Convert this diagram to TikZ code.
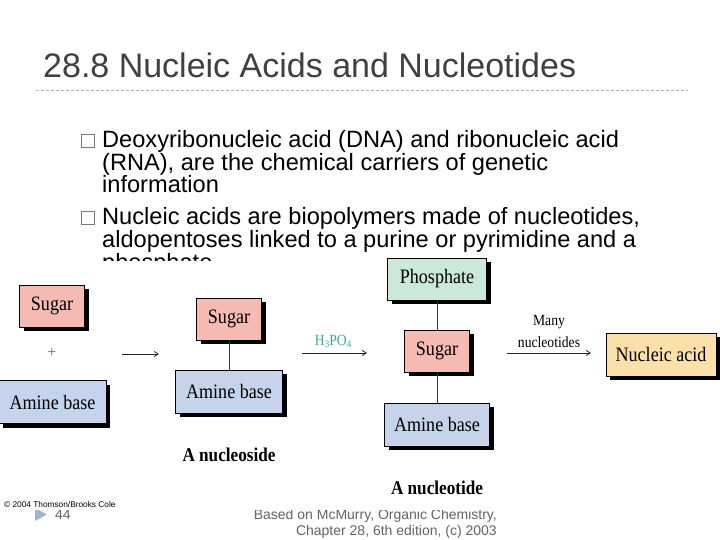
\documentclass[tikz,border=0pt]{standalone}
\usepackage{fontspec}
\setmainfont{Liberation Serif}
\setsansfont{Liberation Sans}
\newfontfamily\figfont{Liberation Serif}[FakeStretch=0.88]
\usetikzlibrary{arrows.meta,shadows}
\definecolor{titlegray}{RGB}{64,64,64}
\definecolor{rulegray}{RGB}{175,175,175}
\definecolor{bulletgray}{RGB}{120,120,120}
\definecolor{footgray}{RGB}{100,100,100}
\definecolor{tribl}{RGB}{160,180,205}
\definecolor{sugarpink}{RGB}{245,187,178}
\definecolor{amineblue}{RGB}{198,212,235}
\definecolor{phosgreen}{RGB}{204,232,218}
\definecolor{nucorange}{RGB}{252,224,170}
\definecolor{acidteal}{RGB}{60,168,148}
\tikzset{
  titletext/.style={anchor=base west, inner sep=0, text=titlegray, font=\sffamily\fontsize{34}{40}\selectfont},
  bodytext/.style={anchor=base west, inner sep=0, text=black, font=\sffamily\fontsize{23.6}{28}\selectfont},
  bulletbox/.style={draw=bulletgray, line width=0.8pt, minimum size=13pt, inner sep=0},
  foottext/.style={anchor=base east, inner sep=0, text=footgray, font=\sffamily\fontsize{14}{16}\selectfont},
  box/.style={draw=black, line width=0.5pt, inner sep=0, font=\figfont\fontsize{20.5}{22}\selectfont,
    drop shadow={shadow xshift=4pt, shadow yshift=-4pt, fill=black, opacity=1}},
  sugarbox/.style={box, fill=sugarpink, minimum width=65pt, minimum height=42pt},
  aminebox/.style={box, fill=amineblue, minimum width=107pt, minimum height=43pt},
  link/.style={draw=black!80, line width=0.7pt},
  arr/.style={draw=black!85, line width=0.8pt, -{Straight Barb[length=4pt,width=5pt]}},
  caption/.style={font=\figfont\bfseries\fontsize{19.5}{22}\selectfont, inner sep=0},
  smalllabel/.style={font=\figfont\fontsize{15.5}{17}\selectfont, inner sep=0, align=center}
}
\begin{document}
\begin{tikzpicture}[x=1pt,y=-1pt]
\useasboundingbox (0,0) rectangle (720,540);
\fill[white] (0,0) rectangle (720,540);
% title and rule
\node[titletext] (title) at (43,78) {28.8 Nucleic Acids and Nucleotides};
\coordinate (ruleL) at (36,90);
\coordinate (ruleR) at (688,90);
\draw[rulegray, line width=0.75pt, dash pattern=on 3pt off 2pt] (ruleL) -- (ruleR);
% bullets
\node[bulletbox] (b1) at (87.5,140.5) {};
\node[bodytext] (l1) at (102,148) {Deoxyribonucleic acid (DNA) and ribonucleic acid};
\node[bodytext] (l2) at (102,170.5) {(RNA), are the chemical carriers of genetic};
\node[bodytext] (l3) at (102,193) {information};
\node[bulletbox] (b2) at (87.5,217.5) {};
\node[bodytext] (l4) at (102,225) {Nucleic acids are biopolymers made of nucleotides,};
\node[bodytext] (l5) at (102,247.5) {aldopentoses linked to a purine or pyrimidine and a};
\node[bodytext] (l6) at (102,270) {phosphate};
% footer
\node[foottext] (f1) at (497,519) {Based on McMurry, Organic Chemistry,};
\node[foottext] (f2) at (497,535) {Chapter 28, 6th edition, (c) 2003};
\node[anchor=base west, inner sep=0, text=footgray, font=\sffamily\fontsize{14}{16}\selectfont] (pg) at (55,519) {44};
\fill[tribl] (35,508) -- (47,514.5) -- (35,521) -- cycle;
% figure background
\fill[white] (0,261) rectangle (720,510);
\node[anchor=west, inner sep=0, font=\sffamily\fontsize{8.3}{9}\selectfont] (copy) at (4,505) {© 2004 Thomson/Brooks Cole};
% left group
\node[sugarbox] (sugarL) at (52,306) {Sugar};
\node[font=\fontsize{16}{16}\selectfont, text=black!60, inner sep=0] (plus) at (52,353) {+};
\node[aminebox] (amineL) at (52.5,402) {Amine base};
\coordinate (a1s) at (122,354);
\coordinate (a1e) at (159,354);
\draw[arr] (a1s) -- (a1e);
% nucleoside
\node[sugarbox] (sugarM) at (229,319) {Sugar};
\node[aminebox] (amineM) at (229,391.5) {Amine base};
\draw[link] (sugarM.south) -- (amineM.north);
\node[caption] (nside) at (229,455) {A nucleoside};
\coordinate (a2s) at (302,353);
\coordinate (a2e) at (367,353);
\draw[arr] (a2s) -- (a2e);
\node[smalllabel, text=acidteal] (h3po4) at (333,341) {H\kern0.3pt\raisebox{-2pt}{\fontsize{10}{10}\selectfont 3}PO\raisebox{-2pt}{\fontsize{10}{10}\selectfont 4}};
% nucleotide
\node[box, fill=phosgreen, minimum width=99pt, minimum height=42pt] (phos) at (437,279) {Phosphate};
\node[sugarbox] (sugarR) at (437,351) {Sugar};
\node[aminebox, minimum width=105pt] (amineR) at (437,424.5) {Amine base};
\draw[link] (phos.south) -- (sugarR.north);
\draw[link] (sugarR.south) -- (amineR.north);
\node[caption] (ntide) at (437,488) {A nucleotide};
\coordinate (a3s) at (507,353);
\coordinate (a3e) at (591,353);
\draw[arr] (a3s) -- (a3e);
\node[smalllabel] (many) at (549,322) {Many};
\node[smalllabel] (nucs) at (549,342) {nucleotides};
% nucleic acid
\node[box, fill=nucorange, minimum width=110pt, minimum height=43pt] (nacid) at (661,354.5) {Nucleic acid};
\end{tikzpicture}
\end{document}
